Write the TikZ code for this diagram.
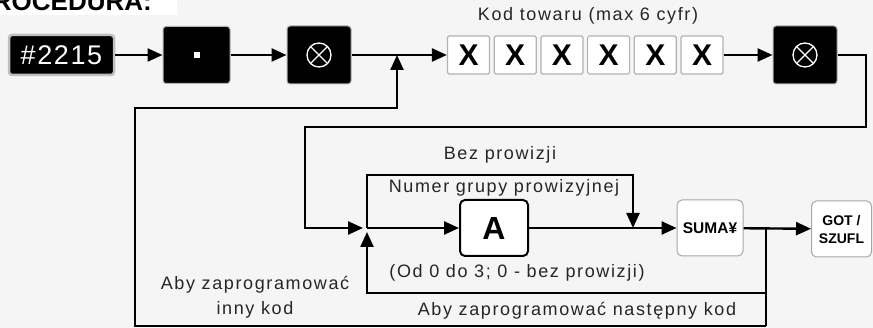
\documentclass[tikz,border=0pt]{standalone}
\usepackage{fontspec}
\setmainfont{Liberation Sans}
\newfontfamily\lblfont[LetterSpace=9]{Liberation Sans}
\newfontfamily\keyfont[LetterSpace=6]{Liberation Sans}
\usetikzlibrary{positioning, arrows.meta}

\begin{document}
\begin{tikzpicture}[
  x=1pt, y=-1pt,
  % ---- Style definitions ----
  blackkey/.style={
    draw=gray!60, fill=black, rounded corners=3pt, line width=1pt,
    minimum width=64pt, minimum height=58pt, inner sep=0pt
  },
  crosskey/.style={
    blackkey,
    path picture={
      \draw[white, line width=1.3pt] (path picture bounding box.center) circle (12);
      \draw[white, line width=1.3pt]
        ([shift={(45:12)}]path picture bounding box.center) --
        ([shift={(225:12)}]path picture bounding box.center)
        ([shift={(135:12)}]path picture bounding box.center) --
        ([shift={(-45:12)}]path picture bounding box.center);
    }
  },
  digit/.style={
    draw=gray!60, fill=white, line width=1.2pt, rounded corners=1.5pt,
    minimum width=42pt, minimum height=38pt, inner sep=0pt,
    font=\fontsize{30}{30}\selectfont\bfseries
  },
  softkey/.style={
    draw=gray!70, fill=white, line width=1pt, rounded corners=5pt,
    minimum width=66pt, minimum height=56pt, inner sep=0pt,
    align=center, font=\fontsize{14}{18}\selectfont\bfseries
  },
  akey/.style={
    draw=black, fill=white, line width=2pt, rounded corners=5pt,
    minimum width=68pt, minimum height=56pt, inner sep=0pt,
    font=\fontsize{32}{32}\selectfont\bfseries
  },
  arr/.style={
    -{Triangle[length=15pt, width=13pt]}, line width=2.4pt
  },
  wire/.style={line width=2.4pt},
  lbl/.style={
    font=\lblfont\fontsize{18}{25}\selectfont, text=black!85,
    inner sep=0pt, align=center
  },
]

% ---- Frame ----
\useasboundingbox (0,0) rectangle (873,328);
\fill[black!4] (0,0) rectangle (873,328);
\begin{scope}
  \clip (0,0) rectangle (873,328);
  \fill[white] (0,0) rectangle (177,15);
  \node[anchor=base east, inner sep=0pt,
        font=\fontsize{26}{26}\selectfont\bfseries] (head) at (152,11) {PROCEDURA:};
\end{scope}

% ---- Top row of keys ----
\node[blackkey, draw=gray!50, line width=2.5pt, minimum width=105pt,
      minimum height=40pt, text=white,
      font=\keyfont\fontsize{27}{27}\selectfont] (k2215) at (61.5,55) {\#2215};
\node[blackkey, minimum width=67pt, minimum height=57pt] (kdot) at (196.5,55)
      {\textcolor{white}{\rule{6pt}{6pt}}};
\node[crosskey] (kx1) at (319,55) {};

\node[digit] (d1) at (468.5,55) {X};
\foreach \i [remember=\i as \j (initially 1)] in {2,...,6}
  \node[digit, right=3.5pt of d\j] (d\i) {X};

\node[crosskey] (kx2) at (805,55) {};

% ---- Lower row of keys ----
\node[akey] (ka) at (494,228) {A};
\node[softkey, font=\fontsize{15.5}{18}\selectfont\bfseries] (ksuma) at (710,228) {SUMA¥};
\node[softkey, minimum width=60pt] (kgot) at (841.5,229) {GOT /\\SZUFL};

% ---- Junctions and corners ----
\coordinate (j1) at (397,55);
\coordinate (j2) at (367,228);
\coordinate (r1) at (866,127);
\coordinate (r2) at (305,127);
\coordinate (b1) at (633,175);
\coordinate (s1) at (766,228);
\coordinate (n1) at (766,293);
\coordinate (s2) at (766,326);
\coordinate (o1) at (135,326);
\coordinate (o2) at (135,108);

% ---- Main flow ----
\draw[arr] (k2215) -- (kdot);
\draw[arr] (kdot) -- (kx1);
\draw[wire] (kx1) -- (j1);
\draw[arr] (j1) -- (d1);
\draw[arr] (d6) -- (kx2);
\draw[arr, shorten >=4pt] (kx2.east) -| (r1) -- (r2) |- (j2);
\draw[arr] (j2) -- (ka);
\draw[arr] (ka) -- (ksuma);
\draw[arr] (ksuma) -- (kgot);

% ---- Bypass and loops ----
\draw[arr] (j2) |- (b1) -- (b1 |- j2);
\draw[wire] (s1) -- (s2);
\draw[arr, shorten >=4pt] (n1) -| (j2);
\draw[arr] (s2) -- (o1) -- (o2) -| (j1);

% ---- Labels ----
\node[lbl] (lkod) at (588,16) {Kod towaru (max 6 cyfr)};
\node[lbl] (lbez) at (500,155) {Bez prowizji};
\node[lbl] (lnum) at (504,188) {Numer grupy prowizyjnej};
\node[lbl] (lod) at (517,273) {(Od 0 do 3; 0 - bez prowizji)};
\node[lbl] (lnast) at (577,311) {Aby zaprogramować następny kod};
\node[lbl] (linny) at (255,297) {Aby zaprogramować\\inny kod};

\end{tikzpicture}
\end{document}
